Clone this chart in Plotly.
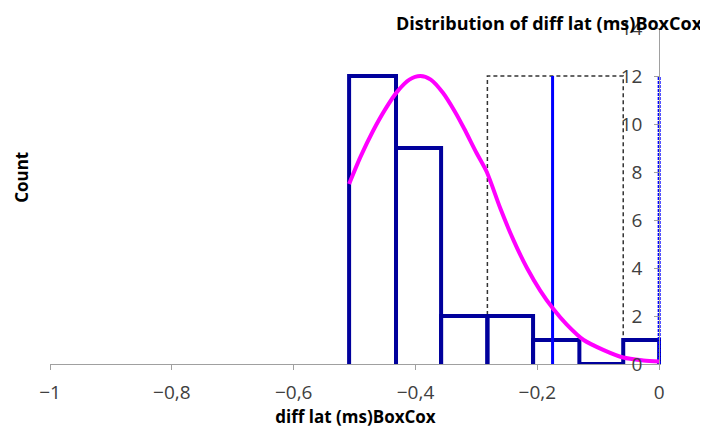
import plotly.graph_objects as go

# ---- data ----
bin_edges = [-0.509, -0.432, -0.358, -0.282, -0.207, -0.131, -0.059, 0.0]
counts = [12, 9, 2, 2, 1, 0, 1]

curve_x = [-0.509, -0.49, -0.47, -0.45, -0.43, -0.41, -0.392, -0.375, -0.355, -0.335,
           -0.32, -0.30, -0.283, -0.261, -0.239, -0.217, -0.195, -0.174, -0.152,
           -0.124, -0.091, -0.059, -0.026, 0.0]
curve_y = [7.5, 8.65, 9.7, 10.6, 11.35, 11.85, 12.0, 11.85, 11.3, 10.5,
           9.8, 8.8, 8.0, 6.5, 5.15, 4.0, 3.05, 2.3, 1.65,
           1.0, 0.58, 0.27, 0.15, 0.1]

box_left, box_right, box_height = -0.282, -0.059, 12
mean_line_x, ref_line_x, line_height = -0.175, 0.0, 12

x_range = [-1, 0.003]
y_range = [0, 14]
x_ticks = [-1, -0.8, -0.6, -0.4, -0.2, 0]
y_ticks = [0, 2, 4, 6, 8, 10, 12, 14]

title = "Distribution of diff lat (ms)BoxCox"
x_title = "diff lat (ms)BoxCox"
y_title = "Count"

# ---- build histogram outline path ----
hx, hy = [], []
for i, c in enumerate(counts):
    l, r = bin_edges[i], bin_edges[i + 1]
    hx += [l, l, r, r, None]
    hy += [0, c, c, 0, None]

fig = go.Figure()

fig.add_trace(go.Scatter(
    x=[box_left, box_left, box_right, box_right],
    y=[0, box_height, box_height, 0],
    mode="lines", line=dict(color="#333333", width=1.5, dash="4px,3px"),
    hoverinfo="skip", showlegend=False))

fig.add_trace(go.Scatter(x=hx, y=hy, mode="lines",
                         line=dict(color="#00009C", width=4),
                         showlegend=False))

fig.add_trace(go.Scatter(x=[mean_line_x, mean_line_x], y=[0, line_height], mode="lines",
                         line=dict(color="#0000FF", width=3), showlegend=False))
fig.add_trace(go.Scatter(x=[ref_line_x, ref_line_x], y=[0, line_height], mode="lines",
                         line=dict(color="#0000FF", width=3, dash="3px,1px"), showlegend=False))

fig.add_trace(go.Scatter(x=curve_x, y=curve_y, mode="lines",
                         line=dict(color="#FF00FF", width=4, shape="spline", smoothing=0.8),
                         showlegend=False))

tick_font = dict(family="Open Sans", size=19, color="#404040")
title_font = dict(family="Open Sans", size=17, color="black")

yaxis_pos = (0 - x_range[0]) / (x_range[1] - x_range[0])

# figure is drawn inside the page's 8px body margin
fig.update_layout(
    width=700, height=422,
    margin=dict(l=42, r=47, t=20, b=66),
    paper_bgcolor="white", plot_bgcolor="white",
    separators=", ",
    xaxis=dict(range=x_range, tickvals=x_ticks, ticks="outside", ticklen=5,
               tickcolor="#a0a0a0", showline=True, linecolor="#a0a0a0", linewidth=1,
               showgrid=False, zeroline=False, tickfont=tick_font, automargin=False,
               ticklabelstandoff=6,
               title=dict(text="<b>" + x_title + "</b>", standoff=0, font=title_font)),
    yaxis=dict(range=y_range, tickvals=y_ticks, side="left", anchor="free",
               position=yaxis_pos, ticks="outside", ticklen=5, tickcolor="#a0a0a0",
               showline=True, linecolor="#a0a0a0", linewidth=1, automargin=False,
               showgrid=False, zeroline=False, tickfont=tick_font, ticklabelstandoff=8),
    annotations=[
        dict(text="<b>" + y_title + "</b>", textangle=-90, x=-0.0458, xref="paper",
             xanchor="center", y=0.554, yref="paper", yanchor="middle",
             showarrow=False, font=title_font),
        dict(text="<b>" + title + "</b>", x=1, xref="paper", xanchor="right", xshift=44,
             y=1, yref="paper", yanchor="middle", yshift=5, showarrow=False,
             font=dict(family="Open Sans", size=18, color="black")),
    ],
)

fig.write_html("out.html")
